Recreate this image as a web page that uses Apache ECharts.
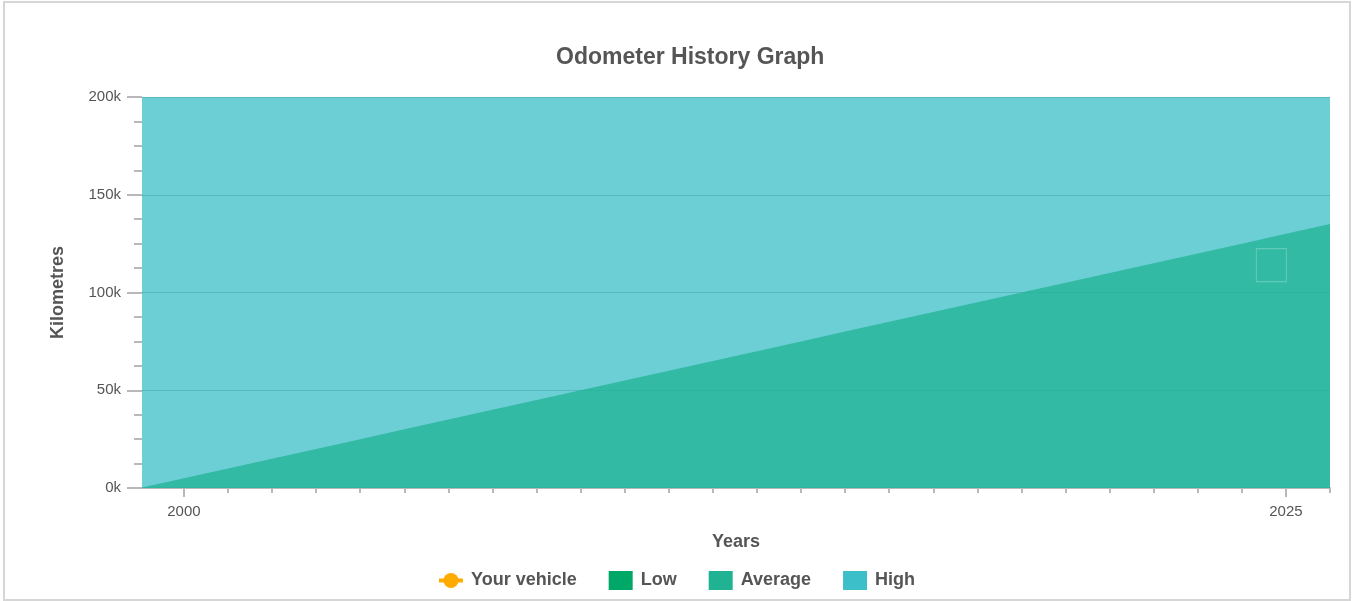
<!DOCTYPE html>
<html lang="en">
<head>
    <meta charset="utf-8">
    <title>Odometer History Graph</title>
    <script src="https://cdn.jsdelivr.net/npm/echarts@6/dist/echarts.min.js"></script>
    <style>
        html, body { margin: 0; padding: 0; background: #fff; }
        #chart { width: 1352px; height: 601px; }
        #frame { position: absolute; left: 3px; top: 1px; width: 1344px; height: 596px;
                 border: 2px solid #d6d6d6; pointer-events: none; }
    </style>
</head>
<body>
<div id="chart"></div>
<div id="frame"></div>
<script>
    // years on the x axis
    var years = [1999, 2000, 2001, 2002, 2003, 2004, 2005, 2006, 2007, 2008, 2009, 2010, 2011, 2012,
                 2013, 2014, 2015, 2016, 2017, 2018, 2019, 2020, 2021, 2022, 2023, 2024, 2025, 2026];
    // kilometres
    var lowKm = [0, 0, 0, 0, 0, 0, 0, 0, 0, 0, 0, 0, 0, 0,
                 0, 0, 0, 0, 0, 0, 0, 0, 0, 0, 0, 0, 0, 0];
    var averageKm = [0, 5000, 10000, 15000, 20000, 25000, 30000, 35000, 40000, 45000, 50000, 55000, 60000, 65000,
                     70000, 75000, 80000, 85000, 90000, 95000, 100000, 105000, 110000, 115000, 120000, 125000, 130000, 135000];
    var highKm = [200000, 200000, 200000, 200000, 200000, 200000, 200000, 200000, 200000, 200000, 200000, 200000, 200000, 200000,
                  200000, 200000, 200000, 200000, 200000, 200000, 200000, 200000, 200000, 200000, 200000, 200000, 200000, 200000];
    var vehicleKm = [];
    var markerPoint = [[2024.67, 114000]];
    var labelYears = [2000, 2025];

    function pairs(xs, ys) {
        var out = [];
        for (var i = 0; i < xs.length; i++) out.push([xs[i], ys[i]]);
        return out;
    }

    var font = 'Arial, "Liberation Sans", sans-serif';
    var myChart = echarts.init(document.getElementById('chart'));

    var axisBase = {
        type: 'value',
        position: 'bottom',
        min: 1999.05,
        max: 2026,
        splitLine: { show: false }
    };

    var option = {
        animation: false,
        textStyle: { fontFamily: font },
        title: {
            text: 'Odometer History Graph',
            left: 551,
            top: 41,
            textStyle: { fontSize: 23, fontWeight: 'bold', color: '#555', fontFamily: font }
        },
        legend: {
            left: 'center',
            top: 566,
            itemWidth: 24,
            itemHeight: 19,
            itemGap: 32,
            data: [
                { name: 'Your vehicle', lineStyle: { width: 4 } },
                { name: 'Low', icon: 'rect' },
                { name: 'Average', icon: 'rect' },
                { name: 'High', icon: 'rect' }
            ],
            textStyle: { fontSize: 18, fontWeight: 'bold', color: '#555', fontFamily: font, padding: [0, 0, 0, 3] }
        },
        grid: { left: 142, right: 22, top: 97, bottom: 113 },
        xAxis: [
            Object.assign({}, axisBase, {
                name: 'Years',
                nameLocation: 'middle',
                nameGap: 45,
                nameTextStyle: { fontSize: 18, fontWeight: 'bold', color: '#555', fontFamily: font },
                axisLine: { show: true, lineStyle: { color: '#b8b8b8', width: 2 } },
                axisTick: { show: true, length: 5, customValues: years, lineStyle: { color: '#b8b8b8', width: 2 } },
                axisLabel: { show: false }
            }),
            Object.assign({}, axisBase, {
                axisLine: { show: false },
                axisTick: { show: true, length: 9, customValues: labelYears, lineStyle: { color: '#b8b8b8', width: 2 } },
                axisLabel: {
                    show: true, customValues: labelYears, margin: 16,
                    fontSize: 15, color: '#555', fontFamily: font,
                    formatter: function (v) { return String(Math.round(v)); }
                }
            })
        ],
        yAxis: {
            type: 'value',
            min: 0,
            max: 200000,
            interval: 50000,
            name: 'Kilometres',
            nameLocation: 'middle',
            nameGap: 75,
            nameTextStyle: { fontSize: 18, fontWeight: 'bold', color: '#555', fontFamily: font },
            axisLine: { show: false },
            axisTick: { show: true, length: 15, lineStyle: { color: '#b8b8b8', width: 2 } },
            minorTick: { show: true, splitNumber: 4, length: 8, lineStyle: { color: '#b8b8b8', width: 2 } },
            axisLabel: {
                margin: 21, fontSize: 15, color: '#555', fontFamily: font,
                formatter: function (v) { return (v / 1000) + 'k'; }
            },
            splitLine: { show: true, lineStyle: { color: '#a8a8a8', width: 1 } }
        },
        series: [
            {
                name: 'Your vehicle',
                type: 'line',
                data: vehicleKm,
                symbol: 'circle',
                symbolSize: 12,
                itemStyle: { color: '#ffab00' },
                lineStyle: { color: '#ffab00', width: 4 }
            },
            {
                name: 'Low',
                type: 'line',
                z: 4,
                data: pairs(years, lowKm),
                showSymbol: false,
                itemStyle: { color: '#00a867' },
                lineStyle: { width: 0, opacity: 0 },
                areaStyle: { color: '#00a867', opacity: 0.75 }
            },
            {
                name: 'Average',
                type: 'line',
                z: 3,
                data: pairs(years, averageKm),
                showSymbol: false,
                itemStyle: { color: '#1fb394' },
                lineStyle: { width: 0, opacity: 0 },
                areaStyle: { color: '#1fb394', opacity: 0.75 }
            },
            {
                name: 'High',
                type: 'line',
                z: 2,
                data: pairs(years, highKm),
                showSymbol: false,
                itemStyle: { color: '#3cbfc8' },
                lineStyle: { width: 0, opacity: 0 },
                areaStyle: { color: '#3cbfc8', opacity: 0.75 }
            },
            {
                type: 'scatter',
                z: 5,
                data: markerPoint,
                symbol: 'rect',
                symbolSize: [30, 33],
                itemStyle: { color: 'rgba(0,0,0,0)', borderColor: 'rgba(255,255,255,0.3)', borderWidth: 1 },
                silent: true
            }
        ]
    };

    myChart.setOption(option);
</script>
</body>
</html>
